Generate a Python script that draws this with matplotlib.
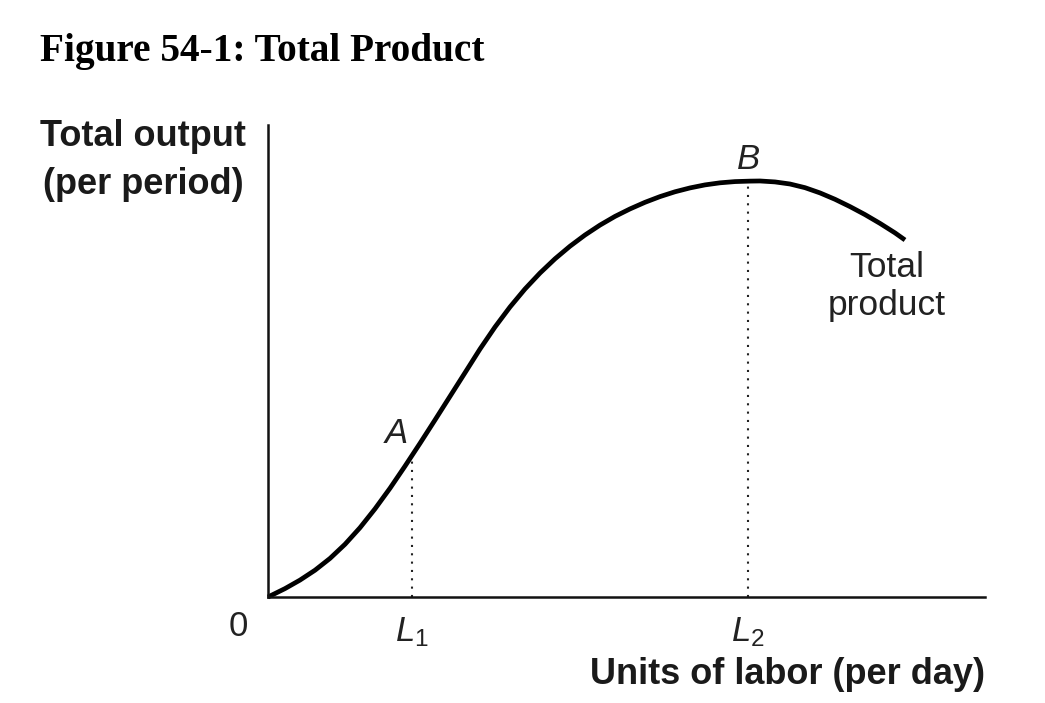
import matplotlib
matplotlib.use('Agg')
import matplotlib.pyplot as plt

# total product curve (labor units 0-100, output 0-100)
LABOR = [0, 0.28, 2.37, 4.46, 6.56, 8.65, 10.74, 12.83, 14.92, 17.02, 19.11, 21.20,
         23.29, 25.38, 27.48, 29.57, 31.66, 33.75, 35.84, 37.94, 40.03, 42.12, 44.21,
         46.30, 48.40, 50.49, 52.58, 54.67, 56.76, 58.86, 60.95, 63.04, 65.13, 67.22,
         68.62, 70.71, 72.80, 74.90, 76.99, 79.08, 81.17, 83.26, 85.36, 87.45, 88.84]
OUTPUT = [0, 0.21, 1.78, 3.58, 5.68, 8.18, 11.17, 14.68, 18.67, 23.05, 27.73, 32.56,
          37.50, 42.50, 47.52, 52.54, 57.20, 61.44, 65.25, 68.64, 71.65, 74.32, 76.69,
          78.79, 80.64, 82.22, 83.62, 84.83, 85.85, 86.67, 87.31, 87.75, 88.01, 88.11,
          88.14, 87.94, 87.50, 86.72, 85.61, 84.26, 82.71, 81.02, 79.15, 77.14, 75.64]
POINTS = ['A', 'B']
POINT_X = [20.08, 66.95]
POINT_Y = [29.5, 88.1]
TICK_LABELS = ['$L_1$', '$L_2$']

plt.rcParams['font.family'] = ['Liberation Sans', 'DejaVu Sans']
plt.rcParams['mathtext.fontset'] = 'custom'
plt.rcParams['mathtext.it'] = 'Liberation Sans:italic'
plt.rcParams['mathtext.rm'] = 'Liberation Sans'

W, H = 1045, 703
fig = plt.figure(figsize=(W / 100, H / 100), dpi=100)
ax = fig.add_axes([268 / W, 106 / H, 717 / W, 472 / H])
ax.set_xlim(0, 100)
ax.set_ylim(0, 100)

for s in ['top', 'right']:
    ax.spines[s].set_visible(False)
for s in ['left', 'bottom']:
    ax.spines[s].set_linewidth(1.8)
    ax.spines[s].set_color('#111111')
ax.set_xticks([])
ax.set_yticks([])

ax.plot(LABOR, OUTPUT, color='black', lw=3.4, solid_capstyle='butt',
        solid_joinstyle='round', clip_on=False)

# dotted drop lines and the L labels under them
for px, py, tl in zip(POINT_X, POINT_Y, TICK_LABELS):
    ax.plot([px, px], [0, py], color='#222222', lw=1.5, ls=(0, (1, 3)))
    ax.text(px, -3.8, tl, fontsize=25, ha='center', va='top', color='#222222')

ax.text(POINT_X[0] - 2.2, POINT_Y[0] + 5.2, POINTS[0], fontsize=25, style='italic',
        ha='center', va='center', color='#222222')
ax.text(POINT_X[1], POINT_Y[1] + 4.6, POINTS[1], fontsize=25, style='italic',
        ha='center', va='center', color='#222222')
ax.text(-4.2, -6.2, '0', fontsize=25, ha='center', va='center', color='#222222')
ax.text(86.3, 65.8, 'Total\nproduct', fontsize=25.5, ha='center', va='center',
        linespacing=1.2, color='#222222')

fig.text(985 / W, 1 - 675 / H, 'Units of labor (per day)', fontsize=26, fontweight='bold',
         ha='right', va='center', color='#1a1a1a')
fig.text(143 / W, 1 - 137 / H, 'Total output', fontsize=26, fontweight='bold',
         ha='center', va='center', color='#1a1a1a')
fig.text(143 / W, 1 - 185 / H, '(per period)', fontsize=26, fontweight='bold',
         ha='center', va='center', color='#1a1a1a')
fig.text(40 / W, 1 - 52 / H, 'Figure 54-1: Total Product', fontsize=28.3, fontweight='bold',
         family='Liberation Serif', ha='left', va='center', color='black')

fig.savefig('out.png', dpi=100)
